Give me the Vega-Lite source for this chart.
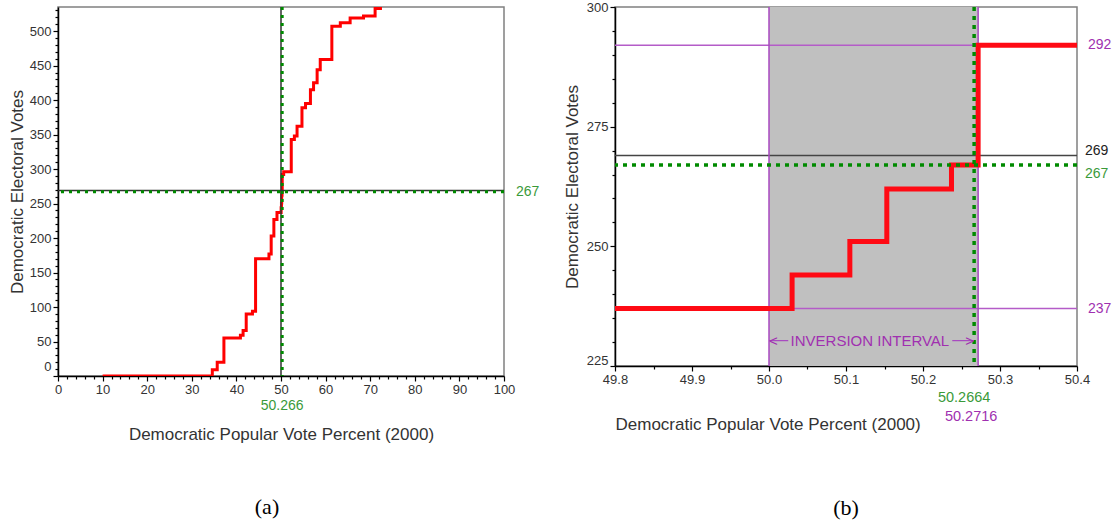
{
  "$schema": "https://vega.github.io/schema/vega-lite/v6.json",
  "background": "white",
  "padding": {"left": 7, "top": 0, "right": 2, "bottom": 5},
  "spacing": 21,
  "config": {
    "font": "Liberation Sans",
    "view": {"stroke": "#808080", "strokeWidth": 1.5},
    "axis": {
      "domainColor": "#000", "domainWidth": 1.5, "tickColor": "#000", "tickWidth": 1.2,
      "labelColor": "#333", "labelFontSize": 13, "labelFont": "Liberation Sans",
      "titleColor": "#333", "titleFontSize": 17, "titleFontWeight": "normal", "titleFont": "Liberation Sans",
      "grid": false, "labelFlush": false, "labelOverlap": false, "labelPadding": 2
    }
  },
  "datasets": {
    "leftSteps": [
      {"pct": 10, "ev": 0}, {"pct": 34.6, "ev": 9}, {"pct": 35.7, "ev": 20}, {"pct": 37.2, "ev": 55},
      {"pct": 40.9, "ev": 59}, {"pct": 41.5, "ev": 66}, {"pct": 42.2, "ev": 90}, {"pct": 43.6, "ev": 94},
      {"pct": 44.3, "ev": 170}, {"pct": 47.3, "ev": 177}, {"pct": 47.8, "ev": 203}, {"pct": 48.4, "ev": 227},
      {"pct": 49.1, "ev": 237}, {"pct": 50.03, "ev": 244}, {"pct": 50.105, "ev": 251}, {"pct": 50.154, "ev": 262},
      {"pct": 50.237, "ev": 267}, {"pct": 50.272, "ev": 292}, {"pct": 50.6, "ev": 296}, {"pct": 52.3, "ev": 343},
      {"pct": 53.0, "ev": 348}, {"pct": 53.6, "ev": 362}, {"pct": 54.7, "ev": 389}, {"pct": 55.5, "ev": 395},
      {"pct": 56.6, "ev": 415}, {"pct": 57.3, "ev": 425}, {"pct": 58.1, "ev": 444}, {"pct": 58.8, "ev": 459},
      {"pct": 61.4, "ev": 507}, {"pct": 63.3, "ev": 512}, {"pct": 65.5, "ev": 519}, {"pct": 68.5, "ev": 522},
      {"pct": 71.1, "ev": 533}, {"pct": 72.3, "ev": 538}
    ],
    "rightSteps": [
      {"pct": 49.8, "ev": 237}, {"pct": 50.03, "ev": 244}, {"pct": 50.105, "ev": 251}, {"pct": 50.153, "ev": 262},
      {"pct": 50.237, "ev": 267}, {"pct": 50.2716, "ev": 292}, {"pct": 50.4, "ev": 292}
    ],
    "leftVert": [{"pct": 50}],
    "leftHoriz": [{"ev": 269}],
    "leftGreenV": [{"pct": 50.266}],
    "leftGreenH": [{"ev": 267}],
    "leftLabelRight": [{"pct": 100, "ev": 267, "label": "267"}],
    "leftLabelBottom": [{"pct": 50.266, "ev": 0, "label": "50.266"}],
    "interval": [{"pct": 50.0, "pct2": 50.2716}],
    "purpleH": [{"ev": 292}, {"ev": 237}],
    "purpleV": [{"pct": 50.0}, {"pct": 50.2716}],
    "blackH": [{"ev": 269}],
    "greenH": [{"ev": 267}],
    "greenV": [{"pct": 50.2664}],
    "purpleLabels": [{"pct": 50.4, "ev": 292, "label": "292"}, {"pct": 50.4, "ev": 237, "label": "237"}],
    "blackLabel": [{"pct": 50.4, "ev": 269, "label": "269"}],
    "greenLabel": [{"pct": 50.4, "ev": 267, "label": "267"}],
    "greenBottom": [{"pct": 50.2664, "ev": 225, "label": "50.2664"}],
    "purpleBottom": [{"pct": 50.2716, "ev": 225, "label": "50.2716"}],
    "intervalText": [{"pct": 50.131, "ev": 230.2, "label": "INVERSION INTERVAL"}],
    "arrowSegs": [{"pct": 50.0, "pct2": 50.025, "ev": 230.3}, {"pct": 50.238, "pct2": 50.266, "ev": 230.3}],
    "arrowLeft": [{"pct": 50.0, "ev": 230.3, "label": "<"}],
    "arrowRight": [{"pct": 50.2664, "ev": 230.3, "label": ">"}]
  },
  "hconcat": [
    {
      "width": 446,
      "height": 369,
      "title": {"text": "(a)", "orient": "bottom", "font": "Liberation Serif", "fontSize": 22, "fontWeight": "normal", "color": "#000", "offset": 55, "dx": -14},
      "resolve": {"axis": {"x": "independent", "y": "independent"}},
      "layer": [
        {
          "data": {"name": "leftSteps"},
          "mark": {"type": "line", "interpolate": "step-after", "color": "#ff0000", "strokeWidth": 3, "clip": true},
          "encoding": {
            "x": {"field": "pct", "type": "quantitative", "scale": {"domain": [0, 100], "nice": false, "zero": false},
              "axis": {"orient": "bottom", "title": "Democratic Popular Vote Percent  (2000)", "labelOverlap": false,
                "values": [0, 10, 20, 30, 40, 50, 60, 70, 80, 90, 100], "tickSize": 5, "titlePadding": 30}},
            "y": {"field": "ev", "type": "quantitative", "scale": {"domain": [0, 535], "nice": false, "zero": false},
              "axis": {"orient": "left", "title": "Democratic Electoral Votes", "labelOverlap": false,
                "values": [0, 50, 100, 150, 200, 250, 300, 350, 400, 450, 500], "tickSize": 5,
                "labelOffset": {"condition": {"test": "datum.value === 0", "value": -10}, "value": 0},
                "titlePadding": 3}}
          }
        },
        {
          "data": {"name": "leftVert"},
          "mark": {"type": "rule", "color": "#333", "strokeWidth": 1.5},
          "encoding": {"x": {"field": "pct", "type": "quantitative", "scale": {"domain": [0, 100]},
            "axis": {"orient": "bottom", "title": null, "labels": false, "domain": false, "tickSize": 3,
              "values": [2,4,6,8,12,14,16,18,22,24,26,28,32,34,36,38,42,44,46,48,52,54,56,58,62,64,66,68,72,74,76,78,82,84,86,88,92,94,96,98]}}}
        },
        {
          "data": {"name": "leftHoriz"},
          "mark": {"type": "rule", "color": "#333", "strokeWidth": 1.5},
          "encoding": {"y": {"field": "ev", "type": "quantitative", "scale": {"domain": [0, 535]},
            "axis": {"orient": "left", "title": null, "labels": false, "domain": false, "tickSize": 3,
              "values": [10,20,30,40,60,70,80,90,110,120,130,140,160,170,180,190,210,220,230,240,260,270,280,290,310,320,330,340,360,370,380,390,410,420,430,440,460,470,480,490,510,520,530]}}}
        },
        {
          "data": {"name": "leftGreenV"},
          "mark": {"type": "rule", "color": "#008a00", "strokeWidth": 3, "strokeDash": [3, 5]},
          "encoding": {"x": {"field": "pct", "type": "quantitative", "scale": {"domain": [0, 100]}, "axis": null}}
        },
        {
          "data": {"name": "leftGreenH"},
          "mark": {"type": "rule", "color": "#008a00", "strokeWidth": 3, "strokeDash": [3, 5]},
          "encoding": {"y": {"field": "ev", "type": "quantitative", "scale": {"domain": [0, 535]}, "axis": null}}
        },
        {
          "data": {"name": "leftLabelRight"},
          "mark": {"type": "text", "color": "#3a9a3a", "fontSize": 14, "align": "left", "baseline": "middle", "dx": 12},
          "encoding": {
            "x": {"field": "pct", "type": "quantitative", "scale": {"domain": [0, 100]}, "axis": null},
            "y": {"field": "ev", "type": "quantitative", "scale": {"domain": [0, 535]}, "axis": null},
            "text": {"field": "label"}
          }
        },
        {
          "data": {"name": "leftLabelBottom"},
          "mark": {"type": "text", "color": "#3a9a3a", "fontSize": 14, "align": "center", "baseline": "middle", "dy": 30},
          "encoding": {
            "x": {"field": "pct", "type": "quantitative", "scale": {"domain": [0, 100]}, "axis": null},
            "y": {"field": "ev", "type": "quantitative", "scale": {"domain": [0, 535]}, "axis": null},
            "text": {"field": "label"}
          }
        }
      ]
    },
    {
      "width": 462,
      "height": 359,
      "title": {"text": "(b)", "orient": "bottom", "font": "Liberation Serif", "fontSize": 22, "fontWeight": "normal", "color": "#000", "offset": 66},
      "resolve": {"axis": {"x": "independent", "y": "independent"}},
      "layer": [
        {
          "data": {"name": "interval"},
          "mark": {"type": "rect", "color": "#c0c0c0"},
          "encoding": {
            "x": {"field": "pct", "type": "quantitative", "scale": {"domain": [49.8, 50.4], "nice": false, "zero": false}, "axis": null},
            "x2": {"field": "pct2"}
          }
        },
        {
          "data": {"name": "purpleH"},
          "mark": {"type": "rule", "color": "#b45cc8", "strokeWidth": 1.5},
          "encoding": {"y": {"field": "ev", "type": "quantitative", "scale": {"domain": [225, 300], "nice": false, "zero": false},
            "axis": {"orient": "left", "title": null, "labels": false, "domain": false, "tickSize": 3,
              "values": [230, 235, 240, 245, 255, 260, 265, 270, 280, 285, 290, 295]}}}
        },
        {
          "data": {"name": "blackH"},
          "mark": {"type": "rule", "color": "#444", "strokeWidth": 1.5},
          "encoding": {"y": {"field": "ev", "type": "quantitative", "scale": {"domain": [225, 300]}, "axis": null}}
        },
        {
          "data": {"name": "purpleV"},
          "mark": {"type": "rule", "color": "#a848c0", "strokeWidth": 1.5},
          "encoding": {"x": {"field": "pct", "type": "quantitative", "scale": {"domain": [49.8, 50.4]},
            "axis": {"orient": "bottom", "title": null, "labels": false, "domain": false, "tickSize": 3,
              "values": [49.85, 49.95, 50.05, 50.15, 50.25, 50.35]}}}
        },
        {
          "data": {"name": "rightSteps"},
          "mark": {"type": "line", "interpolate": "step-after", "color": "#ff0a14", "strokeWidth": 5},
          "encoding": {
            "x": {"field": "pct", "type": "quantitative", "scale": {"domain": [49.8, 50.4], "nice": false, "zero": false},
              "axis": {"orient": "bottom", "title": "Democratic Popular Vote Percent (2000)", "labelOverlap": false, "titleAnchor": "start",
                "values": [49.8, 49.9, 50.0, 50.1, 50.2, 50.3, 50.4], "format": ".1f", "tickSize": 5, "titlePadding": 30}},
            "y": {"field": "ev", "type": "quantitative", "scale": {"domain": [225, 300], "nice": false, "zero": false},
              "axis": {"orient": "left", "title": "Democratic Electoral Votes", "labelOverlap": false,
                "values": [225, 250, 275, 300], "tickSize": 5,
                "labelOffset": {"condition": {"test": "datum.value === 225", "value": -6}, "value": 0},
                "titlePadding": 5}}
          }
        },
        {
          "data": {"name": "greenH"},
          "mark": {"type": "rule", "color": "#008a00", "strokeWidth": 3.5, "strokeDash": [4, 5]},
          "encoding": {"y": {"field": "ev", "type": "quantitative", "scale": {"domain": [225, 300]}, "axis": null}}
        },
        {
          "data": {"name": "greenV"},
          "mark": {"type": "rule", "color": "#008a00", "strokeWidth": 3.5, "strokeDash": [4, 5]},
          "encoding": {"x": {"field": "pct", "type": "quantitative", "scale": {"domain": [49.8, 50.4]}, "axis": null}}
        },
        {
          "data": {"name": "arrowSegs"},
          "mark": {"type": "rule", "color": "#a848c0", "strokeWidth": 1.2},
          "encoding": {
            "x": {"field": "pct", "type": "quantitative", "scale": {"domain": [49.8, 50.4]}, "axis": null},
            "x2": {"field": "pct2"},
            "y": {"field": "ev", "type": "quantitative", "scale": {"domain": [225, 300]}, "axis": null}
          }
        },
        {
          "data": {"name": "arrowLeft"},
          "mark": {"type": "text", "color": "#a030b0", "fontSize": 15, "align": "left", "baseline": "middle"},
          "encoding": {
            "x": {"field": "pct", "type": "quantitative", "scale": {"domain": [49.8, 50.4]}, "axis": null},
            "y": {"field": "ev", "type": "quantitative", "scale": {"domain": [225, 300]}, "axis": null},
            "text": {"field": "label"}
          }
        },
        {
          "data": {"name": "arrowRight"},
          "mark": {"type": "text", "color": "#a030b0", "fontSize": 15, "align": "right", "baseline": "middle"},
          "encoding": {
            "x": {"field": "pct", "type": "quantitative", "scale": {"domain": [49.8, 50.4]}, "axis": null},
            "y": {"field": "ev", "type": "quantitative", "scale": {"domain": [225, 300]}, "axis": null},
            "text": {"field": "label"}
          }
        },
        {
          "data": {"name": "intervalText"},
          "mark": {"type": "text", "color": "#a030b0", "fontSize": 15, "align": "center", "baseline": "middle"},
          "encoding": {
            "x": {"field": "pct", "type": "quantitative", "scale": {"domain": [49.8, 50.4]}, "axis": null},
            "y": {"field": "ev", "type": "quantitative", "scale": {"domain": [225, 300]}, "axis": null},
            "text": {"field": "label"}
          }
        },
        {
          "data": {"name": "purpleLabels"},
          "mark": {"type": "text", "color": "#a030b0", "fontSize": 14, "align": "left", "baseline": "middle", "dx": 11},
          "encoding": {
            "x": {"field": "pct", "type": "quantitative", "scale": {"domain": [49.8, 50.4]}, "axis": null},
            "y": {"field": "ev", "type": "quantitative", "scale": {"domain": [225, 300]}, "axis": null},
            "text": {"field": "label"}
          }
        },
        {
          "data": {"name": "blackLabel"},
          "mark": {"type": "text", "color": "#222", "fontSize": 14, "align": "left", "baseline": "middle", "dx": 8, "dy": -4},
          "encoding": {
            "x": {"field": "pct", "type": "quantitative", "scale": {"domain": [49.8, 50.4]}, "axis": null},
            "y": {"field": "ev", "type": "quantitative", "scale": {"domain": [225, 300]}, "axis": null},
            "text": {"field": "label"}
          }
        },
        {
          "data": {"name": "greenLabel"},
          "mark": {"type": "text", "color": "#3a9a3a", "fontSize": 14, "align": "left", "baseline": "middle", "dx": 8, "dy": 9},
          "encoding": {
            "x": {"field": "pct", "type": "quantitative", "scale": {"domain": [49.8, 50.4]}, "axis": null},
            "y": {"field": "ev", "type": "quantitative", "scale": {"domain": [225, 300]}, "axis": null},
            "text": {"field": "label"}
          }
        },
        {
          "data": {"name": "greenBottom"},
          "mark": {"type": "text", "color": "#3a9a3a", "fontSize": 14.5, "align": "center", "baseline": "middle", "dx": -10, "dy": 32},
          "encoding": {
            "x": {"field": "pct", "type": "quantitative", "scale": {"domain": [49.8, 50.4]}, "axis": null},
            "y": {"field": "ev", "type": "quantitative", "scale": {"domain": [225, 300]}, "axis": null},
            "text": {"field": "label"}
          }
        },
        {
          "data": {"name": "purpleBottom"},
          "mark": {"type": "text", "color": "#a030b0", "fontSize": 14.5, "align": "center", "baseline": "middle", "dx": -7, "dy": 51},
          "encoding": {
            "x": {"field": "pct", "type": "quantitative", "scale": {"domain": [49.8, 50.4]}, "axis": null},
            "y": {"field": "ev", "type": "quantitative", "scale": {"domain": [225, 300]}, "axis": null},
            "text": {"field": "label"}
          }
        }
      ]
    }
  ]
}
